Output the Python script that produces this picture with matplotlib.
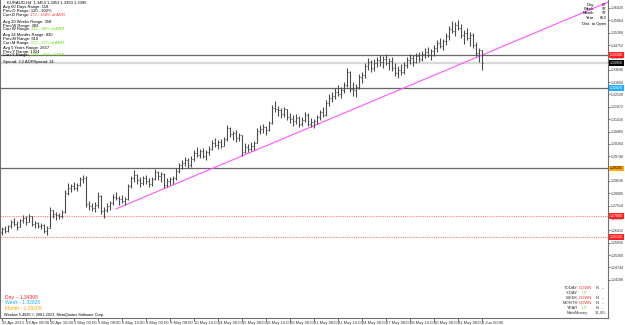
import numpy as np
import matplotlib
matplotlib.use('Agg')
import matplotlib.pyplot as plt
import matplotlib.transforms as mtransforms

plt.rcParams['font.family'] = ['Liberation Sans', 'DejaVu Sans']

# EURAUD H4 bars
first_open = 1.2634
highs = [1.2657, 1.2661, 1.2666, 1.2688, 1.2697, 1.2684, 1.2693, 1.2711, 1.2706, 1.2715,
         1.2706, 1.2684, 1.2679, 1.2675, 1.2670, 1.2661, 1.2747, 1.2733, 1.2724, 1.2720,
         1.2733, 1.2823, 1.2855, 1.2850, 1.2859, 1.2855, 1.2882, 1.2891, 1.2886, 1.2774,
         1.2765, 1.2769, 1.2814, 1.2801, 1.2747, 1.2765, 1.2774, 1.2805, 1.2814, 1.2796,
         1.2801, 1.2792, 1.2850, 1.2886, 1.2913, 1.2895, 1.2882, 1.2886, 1.2891, 1.2877,
         1.2882, 1.2918, 1.2909, 1.2904, 1.2900, 1.2877, 1.2882, 1.2886, 1.2922, 1.2945,
         1.2958, 1.2972, 1.2967, 1.2976, 1.3003, 1.3017, 1.3008, 1.3012, 1.3003, 1.3021,
         1.3048, 1.3057, 1.3048, 1.3053, 1.3062, 1.3116, 1.3107, 1.3089, 1.3093, 1.3080,
         1.3071, 1.3035, 1.3030, 1.3039, 1.3044, 1.3102, 1.3116, 1.3120, 1.3111, 1.3134,
         1.3206, 1.3224, 1.3201, 1.3192, 1.3197, 1.3188, 1.3170, 1.3161, 1.3165, 1.3156,
         1.3152, 1.3174, 1.3170, 1.3147, 1.3143, 1.3161, 1.3183, 1.3197, 1.3228, 1.3255,
         1.3264, 1.3282, 1.3296, 1.3287, 1.3309, 1.3372, 1.3359, 1.3309, 1.3300, 1.3345,
         1.3354, 1.3395, 1.3417, 1.3408, 1.3413, 1.3422, 1.3431, 1.3426, 1.3435, 1.3417,
         1.3422, 1.3395, 1.3381, 1.3390, 1.3399, 1.3422, 1.3435, 1.3431, 1.3440, 1.3444,
         1.3449, 1.3462, 1.3467, 1.3458, 1.3476, 1.3498, 1.3507, 1.3503, 1.3530, 1.3561,
         1.3584, 1.3579, 1.3588, 1.3570, 1.3543, 1.3552, 1.3534, 1.3530, 1.3489, 1.3462,
         1.3453]
lows = [1.2621, 1.2630, 1.2634, 1.2652, 1.2661, 1.2643, 1.2657, 1.2675, 1.2666, 1.2679,
        1.2661, 1.2652, 1.2652, 1.2648, 1.2630, 1.2621, 1.2652, 1.2697, 1.2688, 1.2693,
        1.2697, 1.2720, 1.2801, 1.2814, 1.2823, 1.2819, 1.2841, 1.2855, 1.2747, 1.2733,
        1.2729, 1.2724, 1.2742, 1.2715, 1.2697, 1.2724, 1.2733, 1.2756, 1.2778, 1.2756,
        1.2765, 1.2756, 1.2778, 1.2832, 1.2859, 1.2850, 1.2837, 1.2846, 1.2850, 1.2837,
        1.2841, 1.2868, 1.2868, 1.2859, 1.2832, 1.2837, 1.2846, 1.2850, 1.2868, 1.2900,
        1.2918, 1.2931, 1.2922, 1.2927, 1.2954, 1.2972, 1.2967, 1.2967, 1.2958, 1.2981,
        1.3003, 1.3017, 1.3008, 1.3012, 1.3021, 1.3044, 1.3062, 1.3048, 1.3039, 1.3044,
        1.2976, 1.2990, 1.2994, 1.2999, 1.3003, 1.3035, 1.3075, 1.3080, 1.3071, 1.3089,
        1.3120, 1.3174, 1.3156, 1.3147, 1.3152, 1.3138, 1.3125, 1.3111, 1.3120, 1.3107,
        1.3111, 1.3129, 1.3111, 1.3107, 1.3102, 1.3120, 1.3138, 1.3152, 1.3156, 1.3201,
        1.3219, 1.3233, 1.3246, 1.3237, 1.3260, 1.3287, 1.3264, 1.3246, 1.3242, 1.3278,
        1.3305, 1.3327, 1.3363, 1.3354, 1.3359, 1.3377, 1.3381, 1.3372, 1.3386, 1.3363,
        1.3359, 1.3336, 1.3327, 1.3341, 1.3345, 1.3372, 1.3390, 1.3381, 1.3395, 1.3399,
        1.3404, 1.3417, 1.3422, 1.3408, 1.3426, 1.3444, 1.3462, 1.3453, 1.3476, 1.3498,
        1.3530, 1.3516, 1.3543, 1.3507, 1.3480, 1.3498, 1.3471, 1.3462, 1.3426, 1.3399,
        1.3363]
closes = [1.2648, 1.2639, 1.2661, 1.2679, 1.2670, 1.2657, 1.2688, 1.2697, 1.2679, 1.2706,
          1.2670, 1.2675, 1.2661, 1.2666, 1.2639, 1.2652, 1.2733, 1.2715, 1.2711, 1.2706,
          1.2724, 1.2810, 1.2832, 1.2841, 1.2832, 1.2846, 1.2873, 1.2877, 1.2760, 1.2751,
          1.2742, 1.2756, 1.2796, 1.2729, 1.2733, 1.2751, 1.2765, 1.2792, 1.2787, 1.2783,
          1.2774, 1.2783, 1.2841, 1.2877, 1.2891, 1.2868, 1.2855, 1.2877, 1.2864, 1.2850,
          1.2873, 1.2904, 1.2886, 1.2895, 1.2846, 1.2864, 1.2873, 1.2877, 1.2909, 1.2936,
          1.2945, 1.2958, 1.2936, 1.2963, 1.2990, 1.2981, 1.2999, 1.2976, 1.2994, 1.3008,
          1.3035, 1.3026, 1.3039, 1.3021, 1.3053, 1.3102, 1.3075, 1.3080, 1.3057, 1.3071,
          1.2994, 1.3017, 1.3008, 1.3021, 1.3035, 1.3089, 1.3098, 1.3107, 1.3093, 1.3125,
          1.3192, 1.3188, 1.3183, 1.3165, 1.3188, 1.3152, 1.3143, 1.3134, 1.3147, 1.3120,
          1.3138, 1.3161, 1.3120, 1.3129, 1.3134, 1.3152, 1.3174, 1.3161, 1.3215, 1.3237,
          1.3246, 1.3264, 1.3255, 1.3273, 1.3296, 1.3354, 1.3278, 1.3273, 1.3287, 1.3332,
          1.3341, 1.3381, 1.3399, 1.3372, 1.3395, 1.3408, 1.3399, 1.3413, 1.3395, 1.3404,
          1.3372, 1.3350, 1.3363, 1.3354, 1.3386, 1.3408, 1.3417, 1.3399, 1.3426, 1.3413,
          1.3435, 1.3444, 1.3431, 1.3449, 1.3462, 1.3485, 1.3471, 1.3494, 1.3516, 1.3548,
          1.3539, 1.3566, 1.3552, 1.3521, 1.3530, 1.3507, 1.3521, 1.3476, 1.3440, 1.3453,
          1.3395]

date_labels = ['26 Apr 2013', '29 Apr 08:00', '30 Apr 16:00', '2 May 00:00', '3 May 08:00',
               '6 May 16:00', '8 May 00:00', '9 May 08:00', '10 May 16:00', '14 May 00:00',
               '15 May 08:00', '16 May 16:00', '20 May 00:00', '21 May 08:00', '22 May 16:00',
               '24 May 00:00', '27 May 08:00', '28 May 16:00', '30 May 00:00', '31 May 08:00',
               '3 Jun 00:00']
price_ticks = [1.36420, 1.35864, 1.35308, 1.34752, 1.34196, 1.33640, 1.33084, 1.32528,
               1.31972, 1.31416, 1.30860, 1.30304, 1.29748, 1.29192, 1.28636, 1.28080,
               1.27524, 1.26968, 1.26412, 1.25856, 1.25300, 1.24744, 1.24188]

# levels
day_open = 1.34308
week_open = 1.32826
month_open = 1.29205
bid = 1.33950
red_levels = [1.27060, 1.26120]
trend_x = [38, 203]
trend_y = [1.2738, 1.3674]

opens = [first_open] + closes[:-1]
x = np.arange(len(closes))

fig = plt.figure(figsize=(6.25, 3.25), dpi=100)
ax = fig.add_axes([0, 7 / 325, 608 / 625, 318 / 325])
ax.set_xlim(-2 / 3, 202)
ax.set_ylim(1.2247, 1.3678)

# levels first so bars sit on top
ax.axhline(bid, color='#d9d9d9', lw=1.6, zorder=1)
for lvl in [day_open, week_open, month_open]:
    ax.axhline(lvl, color='#666666', lw=0.9, zorder=1)
for lvl in red_levels:
    ax.axhline(lvl, color='#ff8080', lw=0.8, ls=(0, (1, 1)), zorder=1)

bar_col = '#4a4a4a'
ax.vlines(x, lows, highs, color=bar_col, lw=0.8, zorder=3)
ax.hlines(opens, x - 0.45, x, color=bar_col, lw=0.7, zorder=3)
ax.hlines(closes, x, x + 0.45, color=bar_col, lw=0.7, zorder=3)

ax.plot(trend_x, trend_y, color='#ff55ff', lw=0.8, zorder=2)

# axes look like MT4
for s in ['top', 'bottom', 'left', 'right']:
    ax.spines[s].set_color('#707070')
    ax.spines[s].set_linewidth(0.8)
ax.spines['top'].set_visible(False)
ax.yaxis.tick_right()
ax.set_yticks(price_ticks)
ax.set_yticklabels(['%.5f' % p for p in price_ticks])
ax.tick_params(axis='y', labelsize=2.6, length=1.5, width=0.5, pad=0.6, colors='#333333')
ax.set_xticks(np.arange(len(date_labels)) * 8)
ax.set_xticklabels(date_labels, ha='left')
ax.tick_params(axis='x', labelsize=3, length=2, width=0.5, pad=0.5, colors='#333333')

# price boxes on the right scale
trans = mtransforms.blended_transform_factory(ax.transAxes, ax.transData)
boxes = [(day_open, '#ff2020', 'white'), (bid, '#000000', 'white'),
         (week_open, '#20b0ff', 'white'), (month_open, '#ffa500', 'black'),
         (red_levels[0], '#ff2020', 'white'), (red_levels[1], '#ff2020', 'white')]
for lvl, fc, tc in boxes:
    ax.text(1.003, lvl, '%.5f' % lvl, transform=trans, fontsize=2.6, color=tc, va='center',
            ha='left', clip_on=False, zorder=5,
            bbox=dict(boxstyle='square,pad=0.2', fc=fc, ec='none'))

fs = 3


def ftext(px, py, s, color='black', size=fs, **kw):
    return fig.text(px / 625, 1 - py / 325, s, color=color, fontsize=size, va='center', **kw)


def two_part(px, py, s1, s2, c2):
    t = ftext(px, py, s1)
    ax.annotate(s2, xy=(1, 0), xycoords=t, va='bottom', ha='left', fontsize=fs, color=c2,
                annotation_clip=False)


green = '#66dd00'
red = '#ff3030'
ftext(7, 3, 'EURAUD,H4  1.3453 1.3453 1.3363 1.3395')
ftext(3, 7, 'Avg 60 Days Range: 118')
ftext(3, 11, 'Prev.D Range: 120 - 102%')
two_part(3, 15, 'Curr.D Range: ', '172 - 150% of ADR', red)
ftext(3, 22, 'Avg 20 Weeks Range: 358')
ftext(3, 25.5, 'Prev.W Range: 383')
two_part(3, 29, 'Curr.W Range: ', '312 - 88% of AWR', green)
ftext(3, 35, 'Avg 24 Months Range: 830')
ftext(3, 39, 'Prev.M Range: 910')
two_part(3, 43, 'Curr.M Range: ', '572 - 37% of AMR', green)
ftext(3, 48, 'Avg 5 Years Range: 2657')
ftext(3, 52, 'Prev.Y Range: 1424')
two_part(3, 55, 'Curr.Y Range: ', '2381 - 91% of AYR', green)
ftext(3, 62, 'Spread: 3.2 ADRSpread: 34')

# top right panel
for py, lab, val in [(5, 'Day', '67'), (9, 'Week', '97'), (13, 'Month', '97'), (18, 'Year', '653')]:
    ftext(594, py, lab, ha='right')
    ftext(606, py, val, ha='right')
ftext(606, 24, 'Dist. to Open', ha='right')

# bottom left
ftext(5, 297, 'Day  - %.5f' % day_open, color='#ff2020', size=3.6)
ftext(5, 303, 'Week - %.5f' % week_open, color='#20b0ff', size=3.6)
ftext(5, 309, 'Month - %.5f' % month_open, color='#ffa500', size=3.6)
ftext(4, 315, 'Window 5.4825 \u00a9 2001-2013, MetaQuotes Software Corp.', size=2.8)

# bottom right trend table
rows = [(288, 'TODAY', 'DOWN', red, 'N', '--'), (293, 'Y-DAY', 'UP', green, '', ''),
        (298, 'WEEK', 'DOWN', red, 'N', '--'), (303, 'MONTH', 'DOWN', red, 'N', '--'),
        (308, 'YEAR', 'UP', green, 'N', '--')]
for py, lab, word, col, n, dash in rows:
    ftext(578, py, lab, ha='right', color='#333333')
    ftext(585, py, word, ha='center', color=col)
    ftext(597, py, n, ha='center', color='#333333')
    ftext(603, py, dash, ha='center', color='#333333')
ftext(567, 313, 'MainMoney', color='#333333')
ftext(606, 313, '16.4%', ha='right', color='#333333')

fig.savefig('out.png', dpi=100)
